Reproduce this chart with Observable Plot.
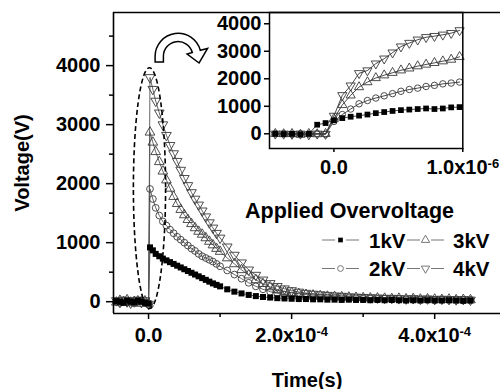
<!DOCTYPE html>
<html><head><meta charset="utf-8">
<script src="https://cdn.jsdelivr.net/npm/d3@7"></script>
<script src="https://cdn.jsdelivr.net/npm/@observablehq/plot@0.6"></script>
<style>
html,body{margin:0;padding:0;background:#fff;overflow:hidden;}
#chart{position:relative;width:500px;height:389px;}
#main{position:absolute;left:0;top:0;}
#inset{position:absolute;left:209px;top:0;}
</style></head><body>
<div id="chart"><div id="main"></div><div id="inset"></div></div>
<script>
// ---------- text ----------
const seriesNames = ["1kV", "2kV", "3kV", "4kV"];
const legendTitle = "Applied Overvoltage";
const xLabel = "Time(s)";
const yLabel = "Voltage(V)";

// ---------- main chart data (time in units of 1e-4 s, voltage in V) ----------
const timeMainE4 = [-0.45,-0.40,-0.35,-0.30,-0.25,-0.20,-0.15,-0.10,-0.05,0,
  0.02,0.06,0.10,0.15,0.20,0.25,0.30,0.35,0.40,0.45,0.50,0.55,0.60,0.65,0.70,0.75,0.80,0.85,0.90,0.95,1.00,
  1.1,1.2,1.3,1.4,1.5,1.6,1.7,1.8,1.9,2.0,
  2.1,2.2,2.3,2.4,2.5,2.6,2.7,2.8,2.9,3.0,
  3.1,3.2,3.3,3.4,3.5,3.6,3.7,3.8,3.9,4.0,
  4.1,4.2,4.3,4.4,4.5];
const v1kV = [10,0,-20,20,0,-10,20,0,-20,-30,
  920,870,810,770,730,700,670,640,610,580,550,520,490,460,430,400,370,340,310,285,260,
  210,170,140,115,95,80,70,60,55,50,
  45,45,40,40,35,35,30,35,30,30,
  25,30,25,30,25,20,25,20,25,20,
  20,25,20,15,20];
const v2kV = [0,-20,10,-10,20,-30,0,20,-10,-50,
  1910,1740,1590,1460,1360,1290,1220,1160,1100,1050,1000,950,900,860,810,770,740,710,680,640,600,
  530,460,390,320,260,210,170,140,120,105,
  95,85,80,75,70,65,60,60,55,50,
  50,45,50,40,45,40,35,40,35,30,
  35,30,35,25,30];
const v3kV = [-10,20,0,30,-20,0,10,-30,10,-30,
  2870,2700,2540,2370,2210,2060,1920,1780,1660,1560,1470,1390,1320,1250,1190,1140,1080,1020,960,900,850,
  740,640,540,450,370,305,250,205,175,150,
  135,120,110,100,90,85,80,75,70,65,
  60,60,55,50,55,45,50,40,45,40,
  35,40,30,35,30];
const v4kV = [20,-10,30,0,-20,10,30,-10,20,-40,
  3800,3600,3400,3200,3000,2820,2650,2510,2380,2230,2090,1970,1850,1740,1640,1540,1440,1340,1250,1160,1080,
  930,790,660,540,450,370,310,260,220,190,
  165,145,130,120,110,100,95,85,80,75,
  70,65,60,60,55,50,55,45,50,40,
  45,40,35,40,30];

// ---------- inset data (time in units of 1e-6 s, voltage in V) ----------
const insetTimeUs = [-0.455,-0.39,-0.325,-0.26,-0.195,-0.13,-0.065,0.0,0.065,0.13,0.195,0.26,0.325,0.39,0.455,0.52,0.585,0.65,0.715,0.78,0.845,0.91,0.975];
const inset1kV = [0,-10,0,-20,0,330,390,490,570,620,660,700,750,790,830,860,880,900,920,900,920,960,970];
const inset2kV = [0,0,-20,0,-10,0,-20,450,700,900,1090,1210,1300,1380,1460,1545,1610,1660,1720,1760,1815,1845,1880];
const inset3kV = [0,-10,0,-30,0,-10,0,550,1050,1400,1700,1880,2030,2130,2220,2310,2380,2460,2520,2580,2640,2700,2800];
const inset4kV = [0,0,-10,0,-30,0,-10,650,1400,1750,2200,2300,2550,2730,2950,3170,3300,3420,3510,3550,3600,3660,3760];

// ---------- ticks ----------
const mainYTicks = [0, 1000, 2000, 3000, 4000];
const mainYMinor = [500, 1500, 2500, 3500, 4500];
const mainXTicks = [0, 2, 4];
const mainXMinor = [1, 3];
const insetYTicks = [0, 1000, 2000, 3000, 4000];
const insetXTicks = [0, 1];

// ---------- styling ----------
const FONT = "'Liberation Sans', Arial, Helvetica, sans-serif";
const lineColor = "#555";
const markStroke = "#3a3a3a";

const triangleDown = {
  draw(ctx, size) {
    const y = -Math.sqrt(size / (Math.sqrt(3) * 3));
    ctx.moveTo(0, -y * 2);
    ctx.lineTo(-Math.sqrt(3) * y, y);
    ctx.lineTo(Math.sqrt(3) * y, y);
    ctx.closePath();
  }
};
const seriesStyle = [
  {symbol: "square", fill: "#000", stroke: "none", r: 3.4},
  {symbol: "circle", fill: "none", stroke: markStroke, r: 3.4},
  {symbol: "triangle", fill: "none", stroke: markStroke, r: 3.6},
  {symbol: triangleDown, fill: "none", stroke: markStroke, r: 3.6}
];

const mainValues = [v1kV, v2kV, v3kV, v4kV];
const insetValues = [inset1kV, inset2kV, inset3kV, inset4kV];
const mainRows = mainValues.map((vals, s) => timeMainE4.map((t, i) => ({t, v: vals[i], s})));
const insetRows = insetValues.map((vals, s) => insetTimeUs.map((t, i) => ({t, v: vals[i], s})));

const xDomain = [-0.49, 4.92];
const yDomain = [-200, 4900];

function sciFmt(exp) {
  return d => d === 0 ? "0.0" : d.toFixed(1) + "x10^" + exp;
}
const order = [3, 2, 1, 0];

const mainMarks = [];
for (const s of order) {
  mainMarks.push(Plot.line(mainRows[s], {x: "t", y: "v", stroke: lineColor, strokeWidth: 0.9}));
}
for (const s of order) {
  const st = seriesStyle[s];
  mainMarks.push(Plot.dot(mainRows[s], {x: "t", y: "v", symbol: st.symbol, r: st.r, fill: st.fill, stroke: st.stroke, strokeWidth: 0.9}));
}

const main = Plot.plot({
  width: 500, height: 389,
  marginLeft: 113, marginRight: 0, marginTop: 12, marginBottom: 76,
  style: {fontFamily: FONT, fontSize: "20px", fontWeight: "bold", background: "white", color: "#000"},
  x: {domain: xDomain, label: null},
  y: {domain: yDomain, label: null},
  marks: [
    ...mainMarks,
    Plot.ruleY([yDomain[1]], {stroke: "#000", strokeWidth: 1.6}),
    Plot.ruleY([yDomain[0]], {stroke: "#000", strokeWidth: 1.6}),
    Plot.ruleX([xDomain[0]], {stroke: "#000", strokeWidth: 1.6}),
    Plot.axisY(mainYTicks, {tickSize: 7, tickPadding: 6, strokeWidth: 1.5, fontSize: 20, fontWeight: "bold", tickFormat: d => String(d), label: null}),
    Plot.axisY(mainYMinor, {tickSize: 4, strokeWidth: 1.5, tickFormat: () => "", label: null}),
    Plot.axisX(mainXTicks, {tickSize: 6, tickPadding: 8, strokeWidth: 1.5, fontSize: 20, fontWeight: "bold", tickFormat: sciFmt(-4), label: null}),
    Plot.axisX(mainXMinor, {tickSize: 4, strokeWidth: 1.5, tickFormat: () => "", label: null}),
    Plot.text([yLabel], {text: d => d, frameAnchor: "left", dx: -85, rotate: -90, lineAnchor: "bottom", textAnchor: "middle", fontSize: 20, fontWeight: "bold"}),
    Plot.text([xLabel], {text: d => d, frameAnchor: "bottom", dy: 73, lineAnchor: "bottom", textAnchor: "middle", fontSize: 20, fontWeight: "bold"})
  ]
});
document.getElementById("main").appendChild(main);

// inset
const insetMarks = [];
for (const s of order) insetMarks.push(Plot.line(insetRows[s], {x: "t", y: "v", stroke: "#333", strokeWidth: 0.9}));
for (const s of order) {
  const st = seriesStyle[s];
  insetMarks.push(Plot.dot(insetRows[s], {x: "t", y: "v", symbol: st.symbol, r: st.r * 0.95, fill: st.fill === "none" ? "white" : st.fill, fillOpacity: st.fill === "none" ? 0 : 1, stroke: st.stroke, strokeWidth: 0.9}));
}
const inset = Plot.plot({
  width: 291, height: 180,
  marginLeft: 60, marginRight: 37.7, marginTop: 12, marginBottom: 32,
  style: {fontFamily: FONT, fontSize: "20px", fontWeight: "bold", background: "transparent", color: "#000", overflow: "visible"},
  x: {domain: [-0.5, 1.0], label: null},
  y: {domain: [-535, 4410], label: null},
  marks: [
    ...insetMarks,
    Plot.frame({stroke: "#000", strokeWidth: 1.5}),
    Plot.axisY(insetYTicks, {tickSize: 5, tickPadding: 3, strokeWidth: 1.5, fontSize: 20, fontWeight: "bold", tickFormat: d => String(d), label: null}),
    Plot.axisX(insetXTicks, {tickSize: 4, tickPadding: 7, strokeWidth: 1.5, fontSize: 20, fontWeight: "bold", tickFormat: sciFmt(-6), label: null})
  ]
});
document.getElementById("inset").appendChild(inset);

// superscripts for "x10^n" tick labels
for (const svg of [main, inset]) {
  d3.select(svg).selectAll("text").each(function() {
    const txt = this.textContent;
    if (txt.includes("^")) {
      const [base, exp] = txt.split("^");
      const sel = d3.select(this);
      sel.text(null);
      sel.append("tspan").text(base);
      sel.append("tspan").attr("dy", "-0.45em").attr("font-size", "13px").text(exp);
    }
  });
}

// annotations on main chart: dashed ellipse and curved arrow
const xs = main.scale("x"), ys = main.scale("y");
const ellipseSpec = {t: 0.02, v: 1915, halfT: 0.225, halfV: 2040};
const msvg = d3.select(main);
const ecx = xs.apply(ellipseSpec.t), ecy = ys.apply(ellipseSpec.v);
msvg.append("ellipse")
  .attr("cx", ecx).attr("cy", ecy)
  .attr("rx", xs.apply(ellipseSpec.t + ellipseSpec.halfT) - ecx)
  .attr("ry", ys.apply(ellipseSpec.v - ellipseSpec.halfV) - ecy)
  .attr("fill", "none").attr("stroke", "#000").attr("stroke-width", 1.6)
  .attr("stroke-dasharray", "5,3");

// arrow anchored to the point (t, V) = (0.42, 4150)
const ax = xs.apply(0.42), ay = ys.apply(4150);
const P = (dx, dy) => `${(ax + dx).toFixed(1)} ${(ay + dy).toFixed(1)}`;
const arrowPath = `M ${P(-23,5.7)} L ${P(-23,0)} A 23 23 0 0 1 ${P(22.2,-6)} L ${P(29.5,-7.8)} L ${P(21,6.7)} L ${P(9,-2.3)} L ${P(14.2,-3.8)} A 14.7 14.7 0 0 0 ${P(-14.7,0)} L ${P(-14.7,5.7)} Z`;
msvg.append("path").attr("d", arrowPath).attr("fill", "white").attr("stroke", "#000").attr("stroke-width", 1.5).attr("stroke-linejoin", "miter");

// legend
const lg = msvg.append("g").attr("font-family", FONT).attr("font-weight", "bold").attr("fill", "#000").attr("text-anchor", "start");
lg.append("text").attr("x", 245).attr("y", 218).attr("font-size", 21.5).attr("text-anchor", "start").text(legendTitle);
const legendPos = [
  {col: 0, row: 0}, {col: 0, row: 1}, {col: 1, row: 0}, {col: 1, row: 1}
];
const colX = [322, 407], colText = [369, 453], rowY = [240, 268.5];
const legendSymbols = [d3.symbolSquare, d3.symbolCircle, d3.symbolTriangle, triangleDown];
const legendSizes = [22, 26, 30, 30];
seriesNames.forEach((name, s) => {
  const {col, row} = legendPos[s];
  const x0 = colX[col], y0 = rowY[row];
  lg.append("line").attr("x1", x0).attr("x2", x0 + 13).attr("y1", y0).attr("y2", y0).attr("stroke", "#777").attr("stroke-width", 1);
  lg.append("line").attr("x1", x0 + 24).attr("x2", x0 + 37).attr("y1", y0).attr("y2", y0).attr("stroke", "#777").attr("stroke-width", 1);
  lg.append("path").attr("d", d3.symbol(legendSymbols[s], legendSizes[s])())
    .attr("transform", `translate(${x0 + 18.5},${y0})`)
    .attr("fill", s === 0 ? "#000" : "none").attr("stroke", s === 0 ? "none" : "#666").attr("stroke-width", 0.9);
  lg.append("text").attr("x", colText[col]).attr("y", y0 + 7.5).attr("font-size", 20.5).attr("text-anchor", "start").text(name);
});
</script>
</body></html>
